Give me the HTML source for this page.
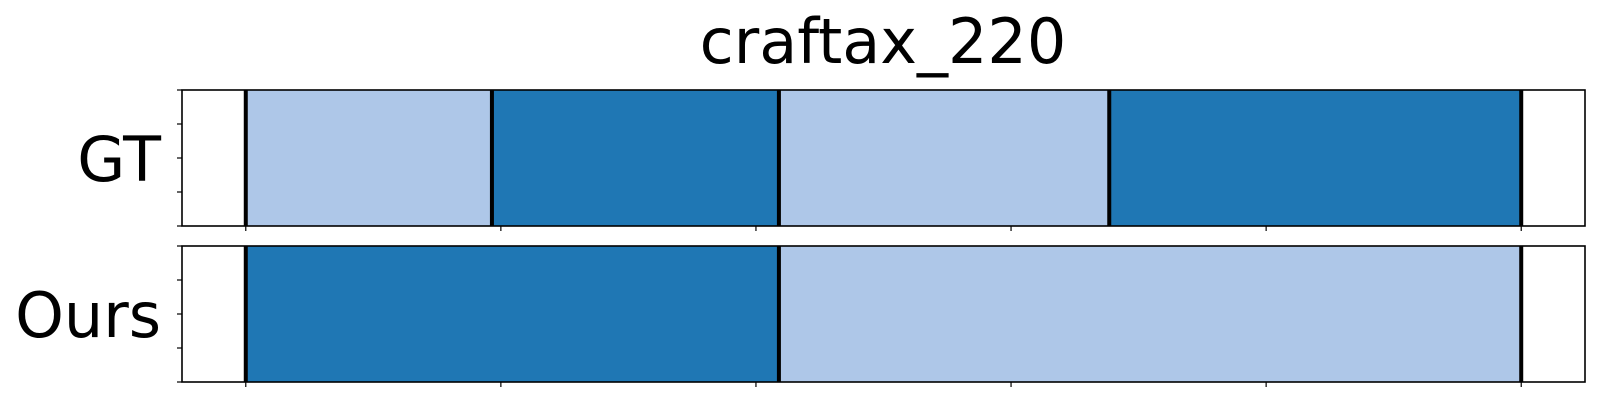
<!DOCTYPE html>
<html><head><meta charset="utf-8"><style>html,body{margin:0;padding:0;background:#fff}svg{display:block}</style></head>
<body>
<svg id="chart" width="1600" height="400" xmlns="http://www.w3.org/2000/svg" font-family="'DejaVu Sans','Liberation Sans',sans-serif">
<text x="883" y="63" font-size="62" text-anchor="middle">craftax_220</text>
<g id="plots"></g>
</svg>
<script>
const rowLabels = ["GT", "Ours"];
const gtBounds = [0, 96.5, 209, 338.5, 500];
const gtClasses = [0, 1, 0, 1];
const oursBounds = [0, 209, 500];
const oursClasses = [1, 0];
const xTicks = [0, 100, 200, 300, 400, 500];
const xDomain = [-25, 525];

const colors = ["#aec7e8", "#1f77b4"];
const axL = 182, axR = 1585;
const rows = [{top: 90, bottom: 226}, {top: 246, bottom: 382}];
function xs(v){ return axL + (v - xDomain[0]) / (xDomain[1] - xDomain[0]) * (axR - axL); }
const NS = "http://www.w3.org/2000/svg";
const g = document.getElementById('plots');
function mk(tag, attrs){ const e = document.createElementNS(NS, tag); for (const k in attrs) e.setAttribute(k, attrs[k]); g.appendChild(e); return e; }
const series = [[gtBounds, gtClasses], [oursBounds, oursClasses]];
series.forEach((s, r) => {
  const {top, bottom} = rows[r];
  const [b, c] = s;
  for (let i = 0; i < c.length; i++) {
    const seg = mk('rect', {x: xs(b[i]), y: top, width: xs(b[i+1]) - xs(b[i]), height: bottom - top, fill: colors[c[i]]});
    
    
  }
  for (let i = 0; i < b.length; i++) {
    const ln = mk('line', {x1: xs(b[i]), x2: xs(b[i]), y1: top, y2: bottom, stroke: '#000', 'stroke-width': 4});
    
    
  }
  const fr = mk('rect', {x: axL, y: top, width: axR - axL, height: bottom - top, fill: 'none', stroke: '#000', 'stroke-width': 1.6});
  
  
  for (let k = 0; k < 5; k++) {
    const y = top + k * (bottom - top) / 4;
    const t = mk('line', {x1: axL - 5, x2: axL, y1: y, y2: y, stroke: '#000', 'stroke-width': 1.2});
    
    
  }
  xTicks.forEach(v => {
    const t = mk('line', {x1: xs(v), x2: xs(v), y1: bottom, y2: bottom + 5, stroke: '#000', 'stroke-width': 1.2});
    
    
  });
  const lab = mk('text', {x: 161, y: (top + bottom) / 2 + 23, 'font-size': 62, 'text-anchor': 'end'});
  lab.textContent = rowLabels[r];
  
  
});
</script>
</body></html>
